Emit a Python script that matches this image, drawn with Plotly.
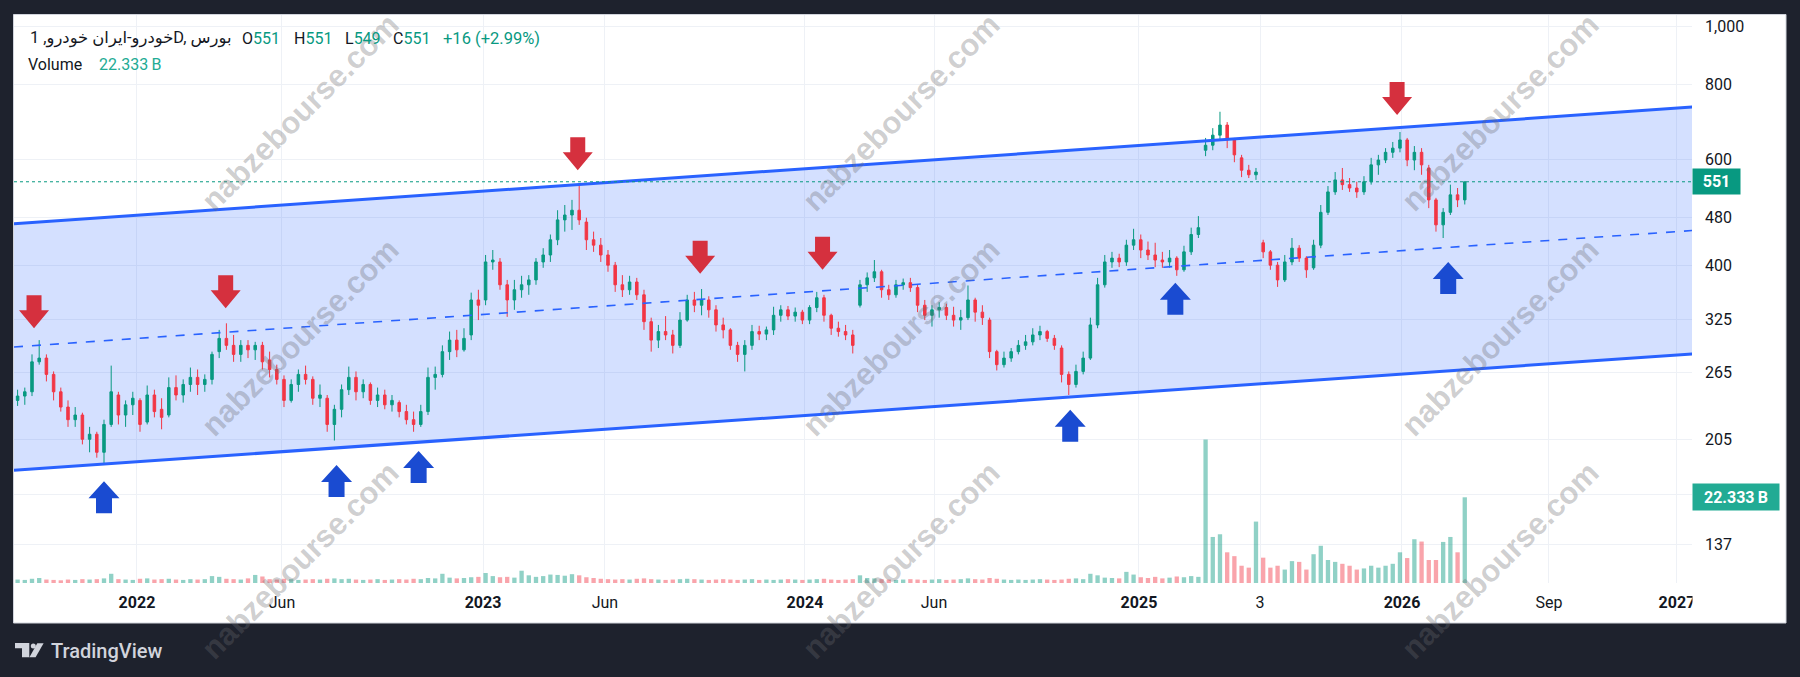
import math
import plotly.graph_objects as go

# ---------------- data (weekly bars) ----------------
opens = [238,242,246,276,280,263,246,232,221,225,205,209,195,217,243,225,234,238,219,243,
         230,225,250,243,253,260,253,258,287,302,294,284,294,289,294,278,268,258,238,253,
         263,258,240,240,217,230,248,260,246,253,238,243,234,236,228,221,217,228,260,263,
         287,300,289,306,350,350,405,405,371,350,364,371,378,405,416,441,476,485,494,472,
         441,432,416,400,371,364,375,357,322,300,310,306,294,324,350,343,350,337,318,312,
         294,284,294,310,307,312,330,337,329,334,324,340,353,330,314,310,306,343,371,381,
         390,364,357,371,374,367,343,330,337,340,330,324,327,350,334,324,287,273,280,287,
         294,298,306,310,302,291,263,253,266,280,318,371,405,411,405,432,441,424,416,408,
         405,411,393,421,450,622,634,659,685,647,604,576,566,436,421,400,378,405,427,411,
         396,432,490,530,555,545,538,530,551,588,599,617,627,647,599,617,581,514,467,490,
         524,514]
highs = [248,250,284,300,284,266,250,238,232,227,215,211,221,272,246,238,246,240,252,248,
         240,260,262,258,270,268,263,287,312,320,306,300,300,298,298,287,273,262,258,268,
         272,261,253,243,234,253,271,266,258,255,250,248,243,238,234,228,234,270,271,294,
         310,312,314,360,364,416,424,411,378,378,384,385,411,427,450,494,504,514,547,480,
         455,444,424,405,385,384,381,364,327,318,329,312,334,357,361,365,355,343,327,314,
         298,300,318,317,316,341,343,342,340,337,343,361,357,332,322,318,312,378,389,408,
         393,371,378,380,381,371,350,343,347,345,341,337,370,353,343,327,289,287,291,300,
         306,314,317,312,306,294,266,273,287,327,381,416,421,418,441,460,450,438,436,421,
         424,414,431,462,483,652,677,721,693,652,611,588,581,441,424,405,416,444,432,414,
         441,504,542,572,581,559,551,563,604,611,627,642,667,652,632,627,588,518,498,545,
         538,551]
lows = [233,234,242,273,256,238,228,215,215,201,195,191,186,215,217,215,225,211,217,223,
        213,223,238,236,246,243,246,253,280,289,276,276,280,278,268,260,253,232,236,246,
        253,234,232,211,204,223,243,238,240,234,232,230,228,223,217,211,215,225,248,260,
        278,281,287,300,324,343,393,364,328,337,353,357,371,396,405,432,455,458,467,424,
        421,405,390,361,354,357,350,312,287,291,300,285,291,322,334,330,327,310,302,289,
        276,266,289,300,300,306,322,324,322,319,319,334,322,306,304,300,285,340,361,375,
        353,350,353,364,361,334,324,316,327,324,316,312,324,322,318,280,267,270,276,284,
        289,294,300,298,289,255,243,250,263,278,314,367,396,397,399,424,411,408,397,396,
        396,384,390,416,444,608,622,647,627,594,561,559,555,411,393,368,375,400,405,381,
        393,427,485,524,534,530,518,524,545,566,592,604,617,585,576,566,498,455,444,485,
        500,505]
closes = [242,246,276,280,263,246,232,221,225,205,209,195,217,246,225,234,240,217,243,228,
          223,250,243,253,260,253,258,284,302,294,284,294,289,294,276,268,258,238,253,263,
          258,240,243,217,230,248,260,246,253,238,243,234,238,228,221,217,228,260,263,287,
          300,289,302,350,343,405,408,371,350,364,371,378,405,416,441,476,485,494,476,441,
          432,416,400,371,364,375,357,322,300,310,306,294,324,350,343,350,337,318,312,294,
          284,294,310,307,312,330,337,329,334,324,340,353,330,314,310,306,294,371,381,390,
          364,357,371,374,367,343,330,337,340,330,324,327,350,334,327,287,273,280,287,294,
          298,306,310,302,294,263,253,266,280,318,371,405,411,405,432,441,424,416,408,405,
          411,393,421,450,462,634,659,685,647,611,576,566,572,421,400,378,405,427,411,393,
          432,490,530,555,545,538,530,551,588,599,617,627,647,599,617,588,514,467,490,524,
          514,551]
volumes_b = [0.9,0.8,1.1,1.3,0.9,0.8,0.7,0.9,0.8,1.0,0.9,1.0,
             1.2,2.4,
             1.0,0.9,0.8,1.1,1.2,0.9,1.0,1.1,0.9,0.8,1.0,0.9,1.0,
             1.8,1.6,
             1.1,1.0,0.9,1.2,
             2.1,1.7,
             1.0,0.9,1.1,1.0,0.8,0.9,1.0,0.9,1.1,1.2,1.0,1.1,0.9,0.8,0.9,1.0,0.8,0.9,1.0,0.9,1.1,1.0,1.3,1.2,
             2.4,
             1.4,1.2,1.3,1.5,1.6,
             2.6,
             1.8,1.5,1.6,1.4,
             3.2,
             2.0,1.6,1.8,2.2,2.1,1.9,2.3,2.0,
             1.5,1.3,1.1,1.0,0.9,1.0,0.9,1.1,1.2,1.0,0.9,0.8,0.9,1.0,1.1,1.0,0.9,0.8,0.9,1.0,
             0.9,0.8,0.9,1.0,0.8,0.9,0.8,0.9,1.0,0.9,0.8,0.9,1.0,1.1,0.9,0.8,0.9,1.0,
             2.0,
             1.3,1.2,1.0,0.9,0.8,0.9,1.0,0.9,0.8,0.9,1.0,0.8,0.9,1.0,1.2,1.0,0.9,1.3,1.1,0.9,
             0.8,0.9,0.8,0.9,1.0,0.9,0.8,0.9,1.1,1.2,1.0,
             2.4,2.0,
             1.4,1.3,1.2,
             2.9,2.2,
             1.5,1.3,1.6,1.2,1.4,1.7,1.5,1.8,1.6,
             37.4,12.0,12.7,8.0,7.0,4.5,4.0,16.0,6.6,4.0,4.5,3.5,5.7,5.5,3.5,7.5,9.7,6.0,5.5,5.0,
             4.5,3.5,3.8,4.5,4.0,4.5,5.0,8.0,6.5,11.4,10.8,6.0,6.0,10.7,12.0,8.0,22.333]
assert len(opens) == len(highs) == len(lows) == len(closes) == len(volumes_b)
weeks = list(range(len(closes)))

# x-axis labels (positions in week-index units)
x_tick_pos = [16.58, 36.72, 64.64, 81.58, 109.36, 127.28, 155.75, 172.56, 192.28, 212.69, 230.47]
x_tick_text = ["2022", "Jun", "2023", "Jun", "2024", "Jun", "2025", "3", "2026", "Sep", "2027"]
x_tick_bold = [True, False, True, False, True, False, True, False, True, False, True]

# price-axis labels
y_tick_vals = [137, 166, 205, 265, 325, 400, 480, 600, 800, 1000]
y_tick_text = ["137", "", "205", "265", "325", "400", "480", "600", "800", "1,000"]

# parallel channel (two anchor points)
channel_x = [-0.5, 232.6]
channel_upper = [469, 734]
channel_lower = [182, 284.5]

# arrows (tip positions: week index, price)
down_arrow_x = [2.28, 28.9, 77.8, 94.8, 111.8, 191.6]
down_arrow_price = [314, 339, 576, 387, 393, 712]
up_arrow_x = [12.0, 44.3, 55.7, 146.2, 160.8, 198.7]
up_arrow_price = [174.4, 185.8, 195.9, 229.6, 374, 405]

last_price = 551
last_volume = 22.333
header_symbol = "خودرو-ایران خودرو, 1D, بورس"
header_ohlc = [("O", "551"), ("H", "551"), ("L", "549"), ("C", "551")]
header_change = "+16 (+2.99%)"
watermark = "nabzebourse.com"

# ---------------- layout geometry (pixels) ----------------
W, H = 1800, 677
PL, PR, PT, PB = 14, 1692, 15, 583
YR = [math.log10(118.05), math.log10(1045.4)]
XR = [-0.5, 232.56]


def pxx(x):
    return (x - PL) / (PR - PL)


def pxy(y):
    return (PB - y) / (PB - PT)


UP = "#089981"
DN = "#f23645"
BLUE = "#2962ff"
FONT = "Roboto, DejaVu Sans, sans-serif"
TXT = "#131722"

fig = go.Figure()

# channel fill (base subplot -> below candles)
fig.add_trace(go.Scatter(x=channel_x, y=channel_lower, mode="lines", line=dict(width=0),
                         hoverinfo="skip", showlegend=False))
fig.add_trace(go.Scatter(x=channel_x, y=channel_upper, mode="lines", line=dict(width=0),
                         fill="tonexty", fillcolor="rgba(41,98,255,0.2)",
                         hoverinfo="skip", showlegend=False))

# volume
vol_colors = ["rgba(8,153,129,0.45)" if c >= o else "rgba(242,54,69,0.45)" for o, c in zip(opens, closes)]
fig.add_trace(go.Bar(x=weeks, y=volumes_b, yaxis="y2", marker=dict(color=vol_colors, line=dict(width=0)),
                     width=0.6, hoverinfo="skip", showlegend=False))

# candles
fig.add_trace(go.Candlestick(x=weeks, open=opens, high=highs, low=lows, close=closes, yaxis="y3",
                             increasing=dict(line=dict(color=UP, width=1), fillcolor=UP),
                             decreasing=dict(line=dict(color=DN, width=1), fillcolor=DN),
                             whiskerwidth=0, hoverinfo="skip", showlegend=False))

# channel lines
mid = [math.sqrt(u * l) for u, l in zip(channel_upper, channel_lower)]
for ys, w, dash in [(channel_upper, 3, "solid"), (channel_lower, 3, "solid"), (mid, 1.6, "dash")]:
    fig.add_trace(go.Scatter(x=channel_x, y=ys, mode="lines", yaxis="y3",
                             line=dict(color=BLUE, width=w, dash=dash),
                             hoverinfo="skip", showlegend=False))

shapes = []
# white panel
shapes.append(dict(type="rect", xref="paper", yref="paper", x0=pxx(13.5), x1=pxx(1786), y0=pxy(623), y1=pxy(14.5),
                   fillcolor="#ffffff", line=dict(color="#d1d4dc", width=1), layer="below"))
# last price dotted line
shapes.append(dict(type="line", xref="paper", yref="y", x0=0, x1=1, y0=last_price, y1=last_price,
                   line=dict(color=UP, width=1, dash="dot"), layer="above"))
# arrows
down_path = "M -7.5,33 L 7.5,33 L 7.5,18 L 15,18 L 0,0 L -15,18 L -7.5,18 Z"
up_path = "M -8,-32 L 8,-32 L 8,-17 L 15.5,-17 L 0,0 L -15.5,-17 L -8,-17 Z"
for xi, p in zip(down_arrow_x, down_arrow_price):
    shapes.append(dict(type="path", xref="x", yref="y", xsizemode="pixel", ysizemode="pixel",
                       xanchor=xi, yanchor=p, path=down_path, fillcolor="#d5303e",
                       line=dict(width=0), layer="above"))
for xi, p in zip(up_arrow_x, up_arrow_price):
    shapes.append(dict(type="path", xref="x", yref="y", xsizemode="pixel", ysizemode="pixel",
                       xanchor=xi, yanchor=p, path=up_path, fillcolor="#1a4bd1",
                       line=dict(width=0), layer="above"))
# clip the last x label at the plot edge
shapes.append(dict(type="rect", xref="paper", yref="paper", x0=pxx(1692.5), x1=pxx(1703), y0=pxy(620), y1=pxy(586),
                   fillcolor="#ffffff", line=dict(width=0), layer="above"))
# TradingView logo
logo = "#d1d4dc"
shapes.append(dict(type="path", xref="paper", yref="paper",
                   path="M {0},{1} L {2},{1} L {2},{3} L {4},{3} L {4},{5} L {0},{5} Z".format(
                       pxx(15), pxy(643), pxx(29.3), pxy(657.3), pxx(22), pxy(648.3)),
                   fillcolor=logo, line=dict(width=0), layer="above"))
shapes.append(dict(type="circle", xref="paper", yref="paper", x0=pxx(30.8), x1=pxx(35.8), y0=pxy(648.6), y1=pxy(643.6),
                   fillcolor=logo, line=dict(width=0), layer="above"))
shapes.append(dict(type="path", xref="paper", yref="paper",
                   path="M {0},{1} L {2},{1} L {3},{4} L {5},{4} Z".format(
                       pxx(37.3), pxy(643.3), pxx(43.6), pxx(35.6), pxy(657.3), pxx(29.4)),
                   fillcolor=logo, line=dict(width=0), layer="above"))

ann = []
# watermarks
for cx in (300, 901, 1500):
    for cy in (112, 337, 560):
        ann.append(dict(text=watermark, xref="paper", yref="paper", x=pxx(cx), y=pxy(cy),
                        showarrow=False, textangle=-45, xanchor="center", yanchor="middle",
                        font=dict(family="Liberation Sans, Arial, sans-serif", size=31, weight="bold",
                                  color="rgba(105,105,110,0.33)")))
# header
ann.append(dict(text=header_symbol, xref="paper", yref="paper", x=pxx(27.5), y=pxy(38), xanchor="left",
                yanchor="middle", showarrow=False, font=dict(family=FONT, size=16.4, color=TXT)))
for (lab, val), xp in zip(header_ohlc, (240, 292, 343, 391)):
    ann.append(dict(text=f'{lab}<span style="color:{UP}">{val}</span>', xref="paper", yref="paper",
                    x=pxx(xp), y=pxy(38), xanchor="left", yanchor="middle", showarrow=False,
                    font=dict(family=FONT, size=16, color=TXT)))
ann.append(dict(text=header_change, xref="paper", yref="paper", x=pxx(441), y=pxy(38), xanchor="left",
                yanchor="middle", showarrow=False, font=dict(family=FONT, size=16.5, color=UP)))
ann.append(dict(text="Volume", xref="paper", yref="paper", x=pxx(26), y=pxy(64), xanchor="left",
                yanchor="middle", showarrow=False, font=dict(family=FONT, size=16, color=TXT)))
ann.append(dict(text=f"{last_volume:.3f}\u2009B", xref="paper", yref="paper", x=pxx(96.5), y=pxy(64),
                xanchor="left", yanchor="middle", showarrow=False, font=dict(family=FONT, size=16, color="#22ab94")))
# axis price labels (boxes)
ann.append(dict(text=f"<b>{last_price}</b>", xref="paper", yref="y", x=pxx(1692), y=math.log10(last_price),
                xanchor="left", yanchor="middle", showarrow=False, bgcolor=UP, borderpad=2,
                width=43, height=21, align="center",
                font=dict(family=FONT, size=16, color="#ffffff")))
ann.append(dict(text=f"<b>{last_volume:.3f}\u2009B</b>", xref="paper", yref="y2", x=pxx(1692), y=last_volume,
                xanchor="left", yanchor="middle", showarrow=False, bgcolor="#22ab94", borderpad=2,
                width=82, height=22, align="center",
                font=dict(family=FONT, size=16, color="#ffffff")))
# TradingView wordmark
ann.append(dict(text="TradingView", xref="paper", yref="paper", x=pxx(49), y=pxy(651), xanchor="left",
                yanchor="middle", showarrow=False, font=dict(family=FONT, size=20, color=logo, weight=500)))

grid = "#eef1f6"
fig.update_layout(
    width=W, height=H, margin=dict(l=PL, r=W - PR, t=PT, b=H - PB, autoexpand=False),
    paper_bgcolor="#1e222d", plot_bgcolor="#ffffff", showlegend=False, hovermode=False,
    boxgap=0.5, bargap=0.3,
    xaxis=dict(range=XR, tickmode="array", tickvals=x_tick_pos,
               ticktext=[f"<b>{t}</b>" if b else t for t, b in zip(x_tick_text, x_tick_bold)],
               showgrid=True, gridcolor=grid, gridwidth=1, zeroline=False, showline=False, ticks="",
               tickfont=dict(family=FONT, size=16, color=TXT), rangeslider=dict(visible=False),
               ticklabelstandoff=8, automargin=False, fixedrange=True),
    yaxis=dict(type="log", range=YR, side="right", tickmode="array", tickvals=y_tick_vals, ticktext=y_tick_text,
               showgrid=True, gridcolor=grid, gridwidth=1, zeroline=False, showline=False, ticks="",
               tickfont=dict(family=FONT, size=16, color=TXT), ticklabelstandoff=12, automargin=False),
    yaxis2=dict(overlaying="y", range=[0, 148], visible=False, showgrid=False),
    yaxis3=dict(overlaying="y", type="log", range=YR, visible=False, showgrid=False),
    shapes=shapes, annotations=ann,
)

fig.write_html("out.html")
